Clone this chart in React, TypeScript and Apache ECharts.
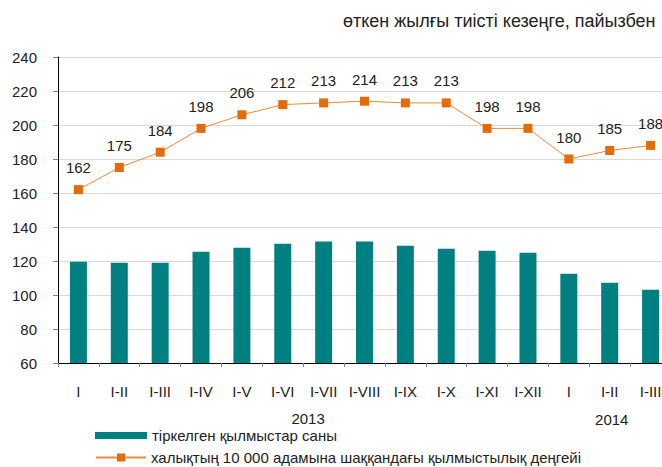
import React, { useEffect, useRef } from 'react';
import * as echarts from 'echarts';

const categories = ['I', 'I-II', 'I-III', 'I-IV', 'I-V', 'I-VI', 'I-VII', 'I-VIII', 'I-IX', 'I-X', 'I-XI', 'I-XII', 'I', 'I-II', 'I-III'];
const crimesCount = [119.6, 119, 119, 125.5, 127.8, 130.2, 131.4, 131.4, 129, 127.2, 126, 124.9, 112.5, 107.2, 103.1];
const crimeRate = [162, 175, 184, 198, 206, 212, 213, 214, 213, 213, 198, 198, 180, 185, 188];
const yearLabels = ['2013', '2014'];
const yTicks = { min: 60, max: 240, interval: 20 };
const titleText = 'өткен жылғы тиісті кезеңге, пайызбен';
const seriesNames = ['тіркелген қылмыстар саны', 'халықтың 10 000 адамына шаққандағы қылмыстылық деңгейі'];

const FONT = '"Liberation Sans", Arial, sans-serif';

export default function App() {
  const ref = useRef<HTMLDivElement>(null);
  useEffect(() => {
    if (!ref.current) return;
    const chart = echarts.init(ref.current, undefined, { renderer: 'svg' });
    const gridLeft = 58;
    const gridWidth = 613;
    const cat = gridWidth / categories.length;
    const yearPos = [5.62, 13.05];
    const yearTop = [411, 412];
    const legendText = { fontSize: 15, color: '#222', fontFamily: FONT };
    chart.setOption({
      animation: false,
      textStyle: { fontFamily: FONT },
      grid: { left: gridLeft, top: 57, width: gridWidth, height: 306, containLabel: false },
      xAxis: {
        type: 'category',
        data: categories.map((_, i) => String(i)),
        axisLine: { lineStyle: { color: '#000', width: 1 } },
        axisTick: { show: true, length: 4, alignWithLabel: false, lineStyle: { color: '#808080' } },
        axisLabel: {
          interval: 0,
          formatter: (v: string) => categories[Number(v)],
          color: '#222',
          fontSize: 15,
          fontFamily: FONT,
          margin: 21,
        },
      },
      yAxis: {
        type: 'value',
        min: yTicks.min,
        max: yTicks.max,
        interval: yTicks.interval,
        axisLine: { show: true, lineStyle: { color: '#000', width: 1 } },
        axisTick: { show: true, length: 5, lineStyle: { color: '#808080' } },
        axisLabel: { color: '#222', fontSize: 15, fontFamily: FONT, margin: 21 },
        splitLine: { lineStyle: { color: '#d9d9d9', width: 1 } },
      },
      legend: [
        {
          orient: 'vertical',
          left: 95,
          top: 428,
          padding: 0,
          itemWidth: 52,
          itemHeight: 7,
          textStyle: legendText,
          data: [{ name: seriesNames[0], icon: 'rect' }],
        },
        {
          orient: 'vertical',
          left: 95,
          top: 450,
          padding: 0,
          itemWidth: 50,
          itemHeight: 10,
          textStyle: legendText,
          data: [{ name: seriesNames[1] }],
        },
      ],
      graphic: [
        {
          type: 'text',
          left: 343,
          top: 12,
          style: { text: titleText, fontSize: 18, fontFamily: FONT, fill: '#222' },
        },
        ...yearLabels.map((y, i) => ({
          type: 'text',
          x: gridLeft + (yearPos[i] + 0.5) * cat,
          y: yearTop[i],
          style: { text: y, fontSize: 15, fontFamily: FONT, fill: '#222', align: 'center' },
        })),
      ],
      series: [
        {
          name: seriesNames[0],
          type: 'bar',
          data: crimesCount,
          barWidth: 17,
          itemStyle: { color: '#008080' },
        },
        {
          name: seriesNames[1],
          type: 'line',
          data: crimeRate,
          symbol: 'rect',
          symbolSize: 9,
          itemStyle: { color: '#E36C0A' },
          lineStyle: { color: '#F0883A', width: 1 },
          label: {
            show: true,
            position: 'top',
            distance: 10,
            fontSize: 15,
            fontFamily: FONT,
            color: '#222',
          },
        },
      ],
    });
    return () => chart.dispose();
  }, []);
  return (
    <div style={{ width: 662, height: 467, position: 'absolute', left: 0, top: 0, overflow: 'hidden' }}>
      <div ref={ref} style={{ width: 700, height: 467 }} />
    </div>
  );
}
